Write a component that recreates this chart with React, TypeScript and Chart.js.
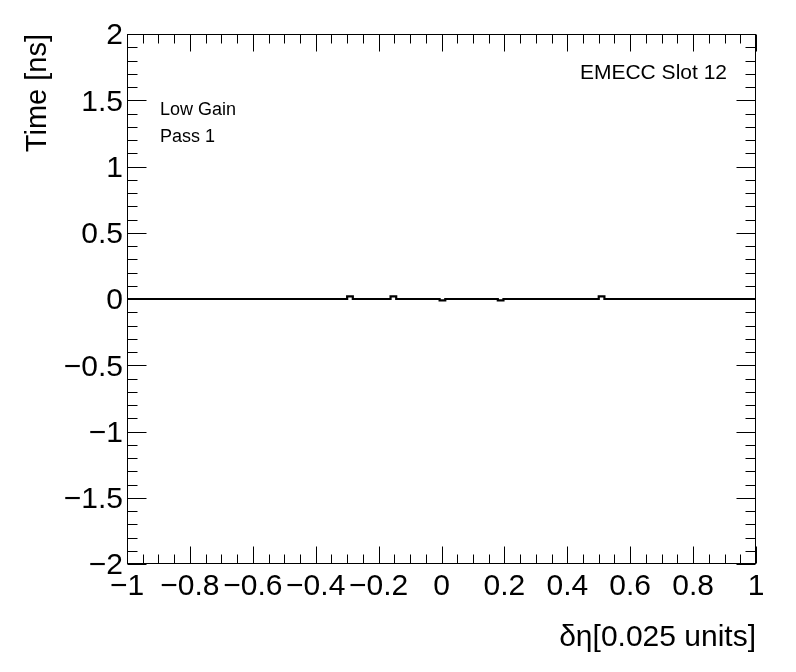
import React, { useEffect, useRef } from 'react';
import { Chart, registerables } from 'chart.js';

Chart.register(...registerables);

// Histogram: bin edges and per-bin values (merged flat runs)
const binEdges = [-1, -0.3, -0.282, -0.162, -0.144, -0.006, 0.012, 0.179, 0.197, 0.5, 0.518, 1];
const binValues = [0, 0.02, 0, 0.02, 0, -0.01, 0, -0.01, 0, 0.02, 0];

const xTickValues = [-1, -0.8, -0.6, -0.4, -0.2, 0, 0.2, 0.4, 0.6, 0.8, 1];
const yTickValues = [-2, -1.5, -1, -0.5, 0, 0.5, 1, 1.5, 2];
const xMinorDivisions = 4;
const yMinorDivisions = 5;

const xTitle = 'δη[0.025 units]';
const yTitle = 'Time [ns]';
const annotationLeft = ['Low Gain', 'Pass 1'];
const annotationRight = 'EMECC Slot 12';

const FONT = '"Liberation Sans", Arial, Helvetica, sans-serif';

const fmt = (v: number) => {
  const r = Math.round(v * 1000) / 1000;
  const s = String(Math.abs(r));
  return r < 0 ? '\u2212' + s : s;
};

const rootPlugin = {
  id: 'rootFrame',
  afterDatasetsDraw(chart: any) {
    const ctx = chart.ctx;
    const { left, right, top, bottom } = chart.chartArea;
    const xs = chart.scales.x;
    const ys = chart.scales.y;
    ctx.save();
    ctx.strokeStyle = '#000';
    ctx.lineWidth = 1;
    const L = Math.round(left) + 0.5;
    const R = Math.round(right) - 0.5;
    const T = Math.round(top) + 0.5;
    const B = Math.round(bottom) - 0.5;
    ctx.strokeRect(L, T, R - L, B - T);
    ctx.beginPath();
    // x ticks
    for (let i = 0; i < xTickValues.length; i++) {
      const v = xTickValues[i];
      const px = Math.round(xs.getPixelForValue(v)) + 0.5;
      ctx.moveTo(px, B); ctx.lineTo(px, B - 17);
      ctx.moveTo(px, T); ctx.lineTo(px, T + 17);
      if (i < xTickValues.length - 1) {
        const step = (xTickValues[i + 1] - v) / xMinorDivisions;
        for (let k = 1; k < xMinorDivisions; k++) {
          const mp = Math.round(xs.getPixelForValue(v + k * step)) + 0.5;
          ctx.moveTo(mp, B); ctx.lineTo(mp, B - 9);
          ctx.moveTo(mp, T); ctx.lineTo(mp, T + 9);
        }
      }
    }
    // y ticks
    for (let i = 0; i < yTickValues.length; i++) {
      const v = yTickValues[i];
      const py = Math.round(ys.getPixelForValue(v)) + 0.5;
      ctx.moveTo(L, py); ctx.lineTo(L + 19, py);
      ctx.moveTo(R, py); ctx.lineTo(R - 19, py);
      if (i < yTickValues.length - 1) {
        const step = (yTickValues[i + 1] - v) / yMinorDivisions;
        for (let k = 1; k < yMinorDivisions; k++) {
          const mp = Math.round(ys.getPixelForValue(v + k * step)) + 0.5;
          ctx.moveTo(L, mp); ctx.lineTo(L + 10, mp);
          ctx.moveTo(R, mp); ctx.lineTo(R - 10, mp);
        }
      }
    }
    ctx.stroke();

    // annotations
    ctx.fillStyle = '#000';
    ctx.textBaseline = 'alphabetic';
    ctx.textAlign = 'left';
    ctx.font = `18px ${FONT}`;
    ctx.fillText(annotationLeft[0], left + 33, top + 81);
    ctx.fillText(annotationLeft[1], left + 33, top + 108);
    ctx.textAlign = 'right';
    ctx.font = `21px ${FONT}`;
    ctx.fillText(annotationRight, right - 29, top + 45);
    ctx.restore();
  },
};

export default function App() {
  const ref = useRef<HTMLCanvasElement | null>(null);
  useEffect(() => {
    document.body.style.margin = '0';
    const canvas = ref.current;
    if (!canvas) return;
    const points = binValues.map((v, i) => ({ x: binEdges[i], y: v }));
    points.push({ x: binEdges[binEdges.length - 1], y: binValues[binValues.length - 1] });

    const tickFont = { family: FONT, size: 30 };
    const chart = new Chart(canvas, {
      type: 'line',
      data: {
        datasets: [
          {
            data: points,
            borderColor: '#000',
            borderWidth: 2.2,
            stepped: true,
            pointRadius: 0,
            fill: false,
            tension: 0,
          },
        ],
      },
      options: {
        animation: false,
        responsive: false,
        maintainAspectRatio: false,
        devicePixelRatio: 1,
        layout: { padding: { left: 21, top: 34, right: 40, bottom: 19 } },
        plugins: { legend: { display: false }, tooltip: { enabled: false } },
        scales: {
          x: {
            type: 'linear',
            min: -1,
            max: 1,
            afterBuildTicks: (s: any) => {
              s.ticks = xTickValues.map((v) => ({ value: v }));
            },
            afterFit: (s: any) => {
              s.height = 672 - 564 - 19;
            },
            grid: { display: false, drawTicks: false },
            border: { display: false },
            ticks: {
              font: tickFont,
              color: '#000',
              padding: 5,
              maxRotation: 0,
              autoSkip: false,
              callback: (v: any) => fmt(Number(v)),
            },
            title: {
              display: true,
              text: xTitle,
              align: 'end',
              color: '#000',
              font: { family: FONT, size: 30 },
              padding: { top: 0, bottom: -3 },
            },
          },
          y: {
            type: 'linear',
            min: -2,
            max: 2,
            afterBuildTicks: (s: any) => {
              s.ticks = yTickValues.map((v) => ({ value: v }));
            },
            afterFit: (s: any) => {
              s.width = 127 - 21;
            },
            grid: { display: false, drawTicks: false },
            border: { display: false },
            ticks: {
              font: tickFont,
              color: '#000',
              padding: 4,
              labelOffset: 2,
              autoSkip: false,
              callback: (v: any) => fmt(Number(v)),
            },
            title: {
              display: true,
              text: yTitle,
              align: 'end',
              color: '#000',
              font: { family: FONT, size: 29 },
              padding: 0,
            },
          },
        },
      } as any,
      plugins: [rootPlugin],
    });
    return () => chart.destroy();
  }, []);

  return (
    <div style={{ position: 'absolute', left: 0, top: 0, width: 796, height: 672, background: '#fff' }}>
      <canvas ref={ref} width={796} height={672} style={{ width: 796, height: 672, display: 'block' }} />
    </div>
  );
}
